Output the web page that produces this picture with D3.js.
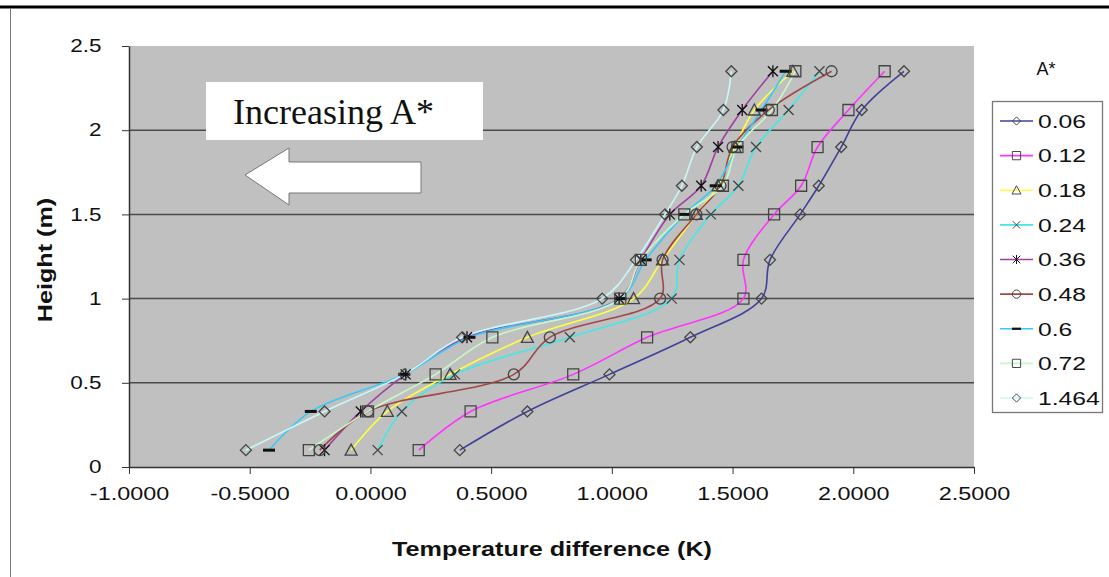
<!DOCTYPE html>
<html>
<head>
<meta charset="utf-8">
<script src="https://cdn.jsdelivr.net/npm/d3@7"></script>
<style>
  body { margin: 0; background: #fff; }
  svg { display: block; }
  text { font-family: "Liberation Sans", Arial, sans-serif; }
</style>
</head>
<body>
<svg id="chart" width="1109" height="577"></svg>
<script>
// heights of the measuring points (m)
const heights = [0.1, 0.33, 0.55, 0.77, 1.0, 1.23, 1.5, 1.67, 1.9, 2.12, 2.35];

// temperature difference (K) per A* value, bottom to top
const a006 = [0.37, 0.65, 0.99, 1.325, 1.62, 1.655, 1.78, 1.857, 1.95, 2.035, 2.21];
const a012 = [0.20, 0.415, 0.84, 1.146, 1.545, 1.545, 1.672, 1.784, 1.852, 1.98, 2.13];
const a018 = [-0.08, 0.07, 0.33, 0.65, 1.09, 1.21, 1.35, 1.44, 1.51, 1.59, 1.75];
const a024 = [0.03, 0.13, 0.35, 0.826, 1.248, 1.28, 1.41, 1.524, 1.597, 1.732, 1.86];
const a036 = [-0.19, -0.04, 0.146, 0.40, 1.03, 1.12, 1.24, 1.37, 1.44, 1.54, 1.667];
const a048 = [-0.21, -0.01, 0.594, 0.743, 1.20, 1.21, 1.35, 1.45, 1.50, 1.65, 1.91];
const a060 = [-0.42, -0.247, 0.14, 0.41, 1.035, 1.14, 1.30, 1.43, 1.52, 1.62, 1.72];
const a072 = [-0.255, -0.01, 0.27, 0.505, 1.035, 1.12, 1.30, 1.46, 1.52, 1.663, 1.76];
const a1464 = [-0.516, -0.19, 0.14, 0.38, 0.96, 1.10, 1.22, 1.29, 1.352, 1.462, 1.495];

const seriesNames = ["0.06", "0.12", "0.18", "0.24", "0.36", "0.48", "0.6", "0.72", "1.464"];
const seriesValues = [a006, a012, a018, a024, a036, a048, a060, a072, a1464];

const xTicks = [-1, -0.5, 0, 0.5, 1, 1.5, 2, 2.5];
const yTicks = [0, 0.5, 1, 1.5, 2, 2.5];

// looks
const colors = ["#40409a", "#ff33ff", "#ffff40", "#40e8e8", "#a040a0", "#a04848", "#38c8f8", "#c8f8c8", "#c8f8f8"];
const markers = ["diamond", "square", "triangle", "x", "asterisk", "circle", "dash", "square", "diamond"];

const svg = d3.select("#chart");
const plotLeft = 129, plotRight = 974, plotTop = 46, plotBottom = 467;

const x = d3.scaleLinear().domain([-1, 2.5]).range([plotLeft, plotRight]);
const y = d3.scaleLinear().domain([0, 2.5]).range([plotBottom, plotTop]);

// outer frame bits
svg.append("line").attr("x1", 0).attr("x2", 1109).attr("y1", 7).attr("y2", 7)
  .attr("stroke", "#000").attr("stroke-width", 3);
svg.append("line").attr("x1", 10.5).attr("x2", 10.5).attr("y1", 8).attr("y2", 577)
  .attr("stroke", "#777").attr("stroke-width", 1);

// plot area
svg.append("rect").attr("x", plotLeft).attr("y", plotTop)
  .attr("width", plotRight - plotLeft).attr("height", plotBottom - plotTop)
  .attr("fill", "#c0c0c0");

// gridlines
svg.append("g").selectAll("line")
  .data(yTicks.filter(t => t > 0 && t < 2.5))
  .join("line")
  .attr("x1", plotLeft).attr("x2", plotRight)
  .attr("y1", d => y(d)).attr("y2", d => y(d))
  .attr("stroke", "#4a4a4a").attr("stroke-width", 1.5);

// annotation box + arrow
svg.append("rect").attr("x", 206).attr("y", 82).attr("width", 277).attr("height", 58)
  .attr("fill", "#fff");
svg.append("text").attr("x", 233).attr("y", 124)
  .style("font-family", "'Liberation Serif', 'Times New Roman', serif")
  .style("font-size", "36px").attr("fill", "#111")
  .text("Increasing A*");
svg.append("path")
  .attr("d", "M245,175 L289,148 L289,162 L421,162 L421,193 L289,193 L289,205 Z")
  .attr("fill", "#fff").attr("stroke", "#777").attr("stroke-width", 1);

// axes
const fmt4 = d3.format(".4f");
const xAxis = svg.append("g")
  .attr("transform", `translate(0,${plotBottom})`)
  .call(d3.axisBottom(x).tickValues(xTicks).tickFormat(d => fmt4(d).replace("\u2212", "-")).tickSize(7).tickSizeOuter(0));
xAxis.select(".domain").attr("stroke", "#333").attr("stroke-width", 1.5);
xAxis.selectAll(".tick line").attr("stroke", "#333");
xAxis.selectAll(".tick text")
  .attr("y", 20).attr("dy", "0.71em")
  .attr("transform", "scale(1.3,1)")
  .style("font-size", "18px").attr("fill", "#111");

const yAxis = svg.append("g")
  .attr("transform", `translate(${plotLeft},0)`)
  .call(d3.axisLeft(y).tickValues(yTicks).tickFormat(d => d).tickSize(7).tickSizeOuter(0));
yAxis.select(".domain").attr("stroke", "#333").attr("stroke-width", 1.5);
yAxis.selectAll(".tick line").attr("stroke", "#333");
yAxis.selectAll(".tick text")
  .attr("x", -22)
  .attr("transform", "scale(1.25,1)")
  .style("font-size", "18px").attr("fill", "#111");

// axis titles
svg.append("text")
  .attr("transform", "translate(552,556) scale(1.26,1)")
  .attr("text-anchor", "middle")
  .style("font-size", "20px").style("font-weight", "bold").attr("fill", "#111")
  .text("Temperature difference (K)");
svg.append("text")
  .attr("transform", "translate(52,260) rotate(-90) scale(1.26,1)")
  .attr("text-anchor", "middle")
  .style("font-size", "20px").style("font-weight", "bold").attr("fill", "#111")
  .text("Height (m)");

// marker paths centred on 0,0
function markerPath(type) {
  switch (type) {
    case "diamond": return "M0,-5.5L5.5,0L0,5.5L-5.5,0Z";
    case "square": return "M-5.5,-5.5H5.5V5.5H-5.5Z";
    case "triangle": return "M0,-6L6,5H-6Z";
    case "circle": return "M5.5,0A5.5,5.5 0 1,1 -5.5,0A5.5,5.5 0 1,1 5.5,0Z";
    case "x": return "M-5,-5L5,5M-5,5L5,-5";
    case "asterisk": return "M-5,-5L5,5M-5,5L5,-5M0,-6V6";
    case "dash": return "M-6,0H6";
  }
}

const line = d3.line()
  .x(d => x(d.t))
  .y(d => y(d.h))
  .curve(d3.curveCatmullRom.alpha(0.5));

const series = seriesNames.map((name, i) => ({
  name: name,
  color: colors[i],
  marker: markers[i],
  points: seriesValues[i].map((t, j) => ({ t: t, h: heights[j] }))
}));

const plot = svg.append("g");
plot.selectAll("path.series")
  .data(series)
  .join("path")
  .attr("class", "series")
  .attr("d", d => line(d.points))
  .attr("fill", "none")
  .attr("stroke", d => d.color)
  .attr("stroke-width", 1.6);

function drawMarker(sel, type) {
  sel.append("path")
    .attr("d", markerPath(type))
    .attr("fill", "none")
    .attr("stroke", type === "dash" || type === "asterisk" ? "#111" : "#444")
    .attr("stroke-width", type === "dash" ? 3 : 1.3);
}

series.forEach(s => {
  const g = plot.append("g").selectAll("g")
    .data(s.points)
    .join("g")
    .attr("transform", d => `translate(${x(d.t)},${y(d.h)})`);
  g.each(function () { drawMarker(d3.select(this), s.marker); });
});

// legend
svg.append("text").attr("x", 1046).attr("y", 75)
  .attr("text-anchor", "middle").style("font-size", "18px").attr("fill", "#111")
  .text("A*");
svg.append("rect").attr("x", 992.5).attr("y", 101.5).attr("width", 110).attr("height", 311)
  .attr("fill", "#fff").attr("stroke", "#777").attr("stroke-width", 1.3);

const legendY = d3.scalePoint().domain(seriesNames).range([121, 398]);
const items = svg.append("g").selectAll("g")
  .data(series)
  .join("g")
  .attr("transform", d => `translate(0,${legendY(d.name)})`);
items.append("line").attr("x1", 1000).attr("x2", 1033)
  .attr("stroke", d => d.color).attr("stroke-width", 1.6);
items.each(function (d) {
  const m = d3.select(this).append("g").attr("transform", "translate(1016.5,0) scale(0.75)");
  drawMarker(m, d.marker);
});
items.append("text")
  .attr("transform", "translate(1038,0) scale(1.3,1)")
  .attr("dy", "0.36em")
  .style("font-size", "19px").attr("fill", "#111")
  .text(d => d.name);
</script>
</body>
</html>
